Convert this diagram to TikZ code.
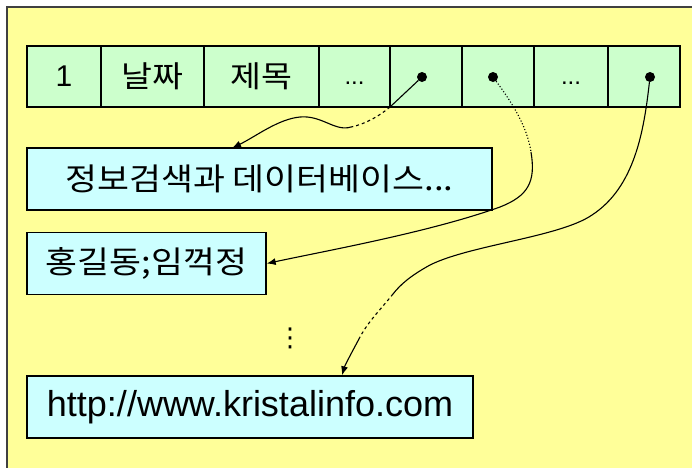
\documentclass[tikz,border=0pt]{standalone}
\usepackage{fontspec}
\setmainfont{Liberation Sans}
\newfontfamily\krfont[FakeStretch=1.12]{Noto Sans CJK KR}
\newfontfamily\symfont{DejaVu Sans}
\usetikzlibrary{arrows.meta}
\definecolor{paper}{RGB}{255,255,153}
\definecolor{cellgreen}{RGB}{204,255,204}
\definecolor{boxcyan}{RGB}{204,255,255}
\definecolor{rim}{RGB}{64,64,64}
\begin{document}
\begin{tikzpicture}[x=1pt, y=-1pt,
    cell/.style={draw, line width=1.4pt, fill=cellgreen, minimum height=61, inner sep=0pt, font=\krfont\fontsize{30}{30}\selectfont},
    entry/.style={draw, line width=1.4pt, fill=boxcyan, minimum height=62, inner sep=0pt, font=\krfont\fontsize{31}{31}\selectfont},
    dot/.style={circle, fill=black, inner sep=0pt, minimum size=10},
    wire/.style={line width=1.1pt},
    >={Latex[length=9pt,width=7pt]}]
    \useasboundingbox (0,0) rectangle (692,467);
    \fill[white] (0,0) rectangle (692,467);
    \filldraw[fill=paper, draw=rim, line width=2pt] (6.5,6.5) rectangle (700,480);
    % the record
    \node[cell, minimum width=74] (c1) at (64,76.5) {\fontspec{Liberation Sans}1};
    \node[cell, minimum width=103] (c2) at (152.5,76.5) {날짜};
    \node[cell, minimum width=115] (c3) at (261.5,76.5) {제목};
    \node[cell, minimum width=71] (c4) at (354.5,76.5) {\fontspec{Liberation Sans}\fontsize{24}{24}\selectfont\vphantom{1}...};
    \node[cell, minimum width=72] (c5) at (426,76.5) {};
    \node[cell, minimum width=72] (c6) at (498,76.5) {};
    \node[cell, minimum width=74] (c7) at (571,76.5) {\fontspec{Liberation Sans}\fontsize{24}{24}\selectfont\vphantom{1}...};
    \node[cell, minimum width=72] (c8) at (644,76.5) {};
    \node[dot] (d5) at (422,77) {};
    \node[dot] (d6) at (493,77) {};
    \node[dot] (d8) at (650,77) {};
    % the values
    \node[entry, minimum width=465] (title) at (259.5,179) {정보검색과 데이터베이스...};
    \node[entry, minimum width=239] (author) at (146.5,263.5) {홍길동;임꺽정};
    \node[entry, minimum width=446, font=\fontsize{36}{36}\selectfont] (url) at (250,407) {http://www.kristalinfo.com};
    \node[font=\symfont\fontsize{26}{26}\selectfont, inner sep=0pt] (more) at (290,338) {⋮};
    % pointers
    \coordinate (a1) at (390,107);
    \coordinate (a2) at (351,127);
    \draw[wire] (d5) -- (a1);
    \draw[wire, dashed] (a1) .. controls (378,117) and (365,124) .. (a2);
    \draw[wire, ->] (a2) .. controls (335,132) and (322,115) .. (300,117) .. controls (278,119) and (255,137) .. (232,148);
    \coordinate (b1) at (531,152);
    \draw[wire, dotted] (d6) .. controls (510,100) and (527,125) .. (b1);
    \draw[wire, ->] (b1) .. controls (536,182) and (528,196) .. (500,207) .. controls (430,232) and (330,250) .. (author.east);
    \coordinate (e1) at (393,294);
    \coordinate (e2) at (360,337);
    \draw[wire] (d8) .. controls (644,130) and (635,187) .. (592,215) .. controls (560,237) and (470,245) .. (430,265) .. controls (410,276) and (400,285) .. (e1);
    \draw[wire, dashed] (e1) .. controls (380,310) and (368,322) .. (e2);
    \draw[wire, ->] (e2) .. controls (352,352) and (345,365) .. (url.north -| 342,0);
\end{tikzpicture}
\end{document}
